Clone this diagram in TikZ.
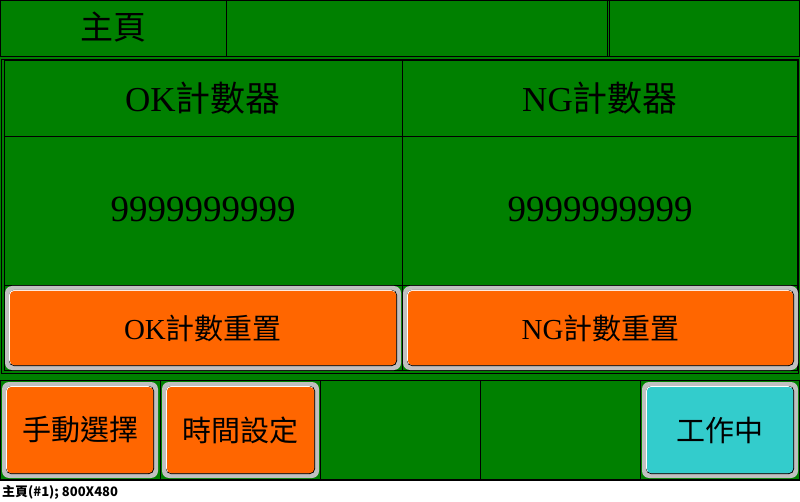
\documentclass[tikz,border=0pt]{standalone}
\usepackage{fontspec}
\setmainfont{Liberation Serif}
\newfontfamily\cjk{Noto Sans CJK TC}
\usetikzlibrary{calc}
\definecolor{hmigreen}{RGB}{0,128,0}
\definecolor{hmiorange}{RGB}{255,102,0}
\definecolor{hmicyan}{RGB}{51,204,204}
\definecolor{hmigray}{RGB}{192,192,192}
\tikzset{
  frame/.style={draw=black, line width=1pt},
  divider/.style={draw=black, line width=1pt},
  titletext/.style={inner sep=0pt, font=\fontsize{35}{40}\selectfont},
  valuetext/.style={inner sep=0pt, font=\fontsize{37}{40}\selectfont},
  toptext/.style={inner sep=0pt, font=\cjk\fontsize{33}{36}\selectfont},
  btntext/.style={inner sep=0pt, font=\fontsize{29}{32}\selectfont},
  captext/.style={inner sep=0pt, anchor=base west, font=\cjk\bfseries\fontsize{13}{14}\selectfont},
}
\newcommand\hmibtn[7]{%
  \fill[hmigray, rounded corners=7pt] (#2,#3) rectangle (#4,#5);
  \fill[black, rounded corners=5pt] ([shift={(4,4)}]#2,#3) rectangle ([shift={(-4,-4)}]#4,#5);
  \fill[white, rounded corners=5pt] ([shift={(4,4)}]#2,#3) rectangle ([shift={(-5,-5)}]#4,#5);
  \fill[#6, rounded corners=4pt] ([shift={(5,5)}]#2,#3) rectangle ([shift={(-5,-5)}]#4,#5);
  \node[btntext] (#1) at ($(#2,#3)!0.5!(#4,#5)$) {#7};
}
\begin{document}
\begin{tikzpicture}[x=1pt, y=-1pt]
\useasboundingbox (0,0) rectangle (800,502);
\fill[white] (0,0) rectangle (800,502);
\fill[hmigreen] (0,0) rectangle (800,480);
% top bar
\draw[frame] (0.5,0.5) rectangle (799.5,56.5);
\draw[divider] (226.5,0.5) -- (226.5,56.5);
\draw[divider] (607.5,0.5) -- (607.5,56.5);
\draw[divider] (609.5,0.5) -- (609.5,56.5);
\node[toptext] (home) at (113,27) {主頁};
% counter panel
\draw[frame] (1.5,59.5) rectangle (798.5,373.5);
\draw[frame] (4.5,60.5) rectangle (797.5,370.5);
\draw[divider] (402.5,60.5) -- (402.5,370.5);
\draw[divider] (4.5,136.5) -- (797.5,136.5);
\draw[divider] (4.5,285.5) -- (797.5,285.5);
\node[titletext] (oktitle) at (203,98) {OK{\cjk 計數器}};
\node[titletext] (ngtitle) at (600,98) {NG{\cjk 計數器}};
\node[valuetext] (okvalue) at (203,209) {9999999999};
\node[valuetext] (ngvalue) at (600,209) {9999999999};
\hmibtn{okreset}{5}{286}{401}{370}{hmiorange}{OK{\cjk 計數重置}}
\hmibtn{ngreset}{403}{286}{798}{370}{hmiorange}{NG{\cjk 計數重置}}
% bottom row
\draw[frame] (0.5,380.5) rectangle (799.5,479);
\draw[black, line width=2pt] (0,479.5) -- (800,479.5);
\draw[divider] (160.5,380.5) -- (160.5,479);
\draw[divider] (320.5,380.5) -- (320.5,479);
\draw[divider] (480.5,380.5) -- (480.5,479);
\draw[divider] (640.5,380.5) -- (640.5,479);
\hmibtn{manual}{2}{382}{158}{478}{hmiorange}{{\cjk 手動選擇}}
\hmibtn{timeset}{162}{382}{319}{478}{hmiorange}{{\cjk 時間設定}}
\hmibtn{working}{642}{382}{798}{478}{hmicyan}{{\cjk 工作中}}
% caption
\node[captext] (caption) at (2,496) {主頁(\#1); 800X480};
\end{tikzpicture}
\end{document}
